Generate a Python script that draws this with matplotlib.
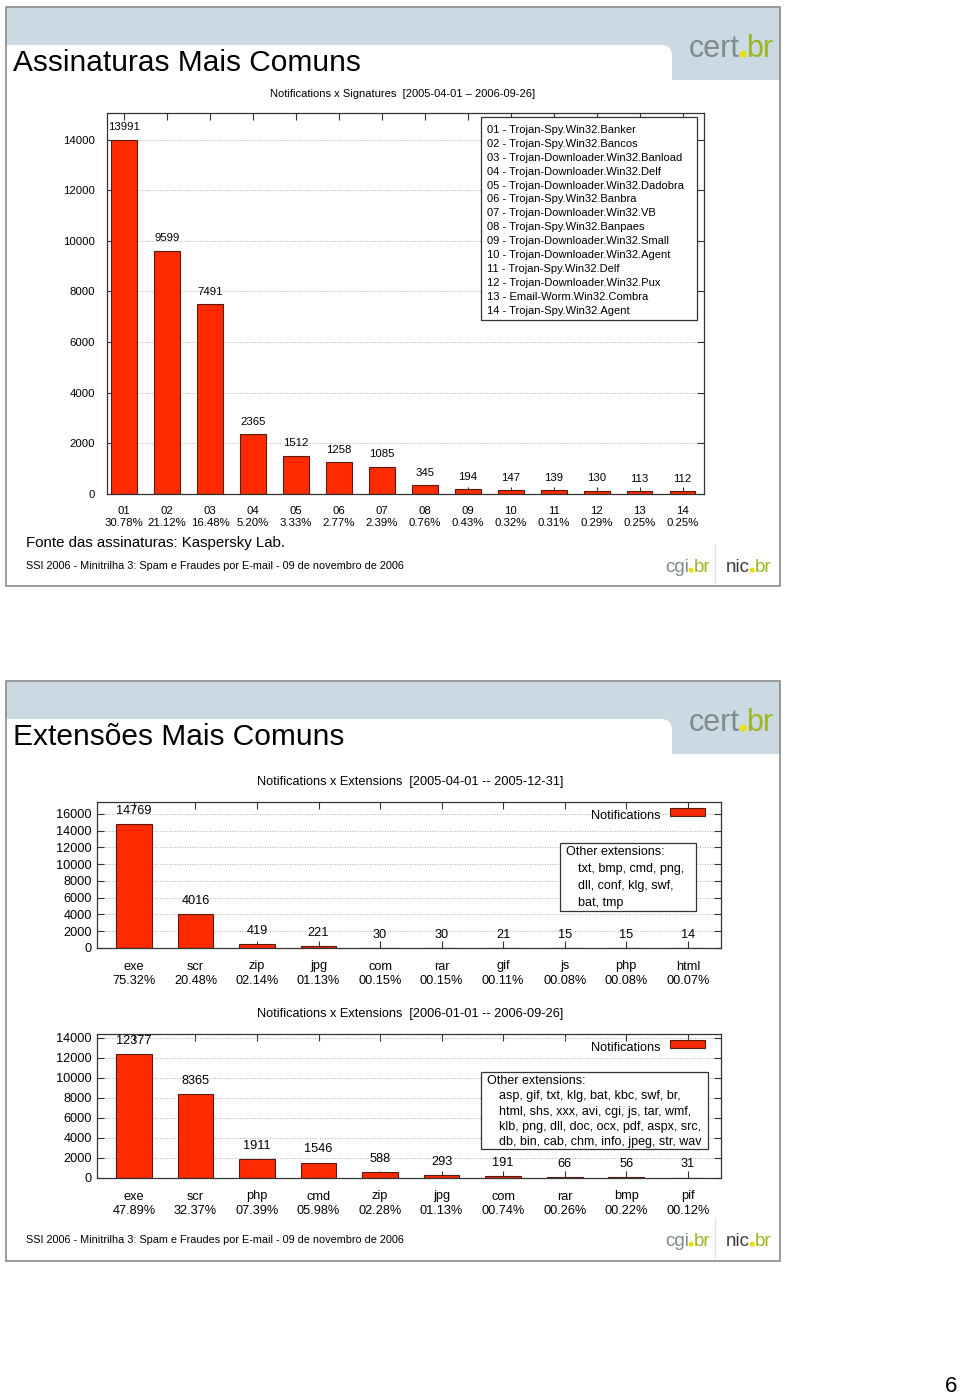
import matplotlib
matplotlib.use("Agg")
import matplotlib.pyplot as plt
from matplotlib.patches import Rectangle, FancyBboxPatch, Circle

plt.rcParams['font.family'] = ['Liberation Sans', 'DejaVu Sans']

# data
sig_codes = ['01', '02', '03', '04', '05', '06', '07', '08', '09', '10', '11', '12', '13', '14']
sig_counts = [13991, 9599, 7491, 2365, 1512, 1258, 1085, 345, 194, 147, 139, 130, 113, 112]
sig_pcts = ['30.78%', '21.12%', '16.48%', '5.20%', '3.33%', '2.77%', '2.39%',
            '0.76%', '0.43%', '0.32%', '0.31%', '0.29%', '0.25%', '0.25%']
sig_names = ['Trojan-Spy.Win32.Banker', 'Trojan-Spy.Win32.Bancos', 'Trojan-Downloader.Win32.Banload',
             'Trojan-Downloader.Win32.Delf', 'Trojan-Downloader.Win32.Dadobra', 'Trojan-Spy.Win32.Banbra',
             'Trojan-Downloader.Win32.VB', 'Trojan-Spy.Win32.Banpaes', 'Trojan-Downloader.Win32.Small',
             'Trojan-Downloader.Win32.Agent', 'Trojan-Spy.Win32.Delf', 'Trojan-Downloader.Win32.Pux',
             'Email-Worm.Win32.Combra', 'Trojan-Spy.Win32.Agent']

ext05_names = ['exe', 'scr', 'zip', 'jpg', 'com', 'rar', 'gif', 'js', 'php', 'html']
ext05_counts = [14769, 4016, 419, 221, 30, 30, 21, 15, 15, 14]
ext05_pcts = ['75.32%', '20.48%', '02.14%', '01.13%', '00.15%', '00.15%', '00.11%', '00.08%', '00.08%', '00.07%']
ext05_other = ['txt, bmp, cmd, png,', 'dll, conf, klg, swf,', 'bat, tmp']

ext06_names = ['exe', 'scr', 'php', 'cmd', 'zip', 'jpg', 'com', 'rar', 'bmp', 'pif']
ext06_counts = [12377, 8365, 1911, 1546, 588, 293, 191, 66, 56, 31]
ext06_pcts = ['47.89%', '32.37%', '07.39%', '05.98%', '02.28%', '01.13%', '00.74%', '00.26%', '00.22%', '00.12%']
ext06_other = ['asp, gif, txt, klg, bat, kbc, swf, br,', 'html, shs, xxx, avi, cgi, js, tar, wmf,',
               'klb, png, dll, doc, ocx, pdf, aspx, src,', 'db, bin, cab, chm, info, jpeg, str, wav']

W, H = 960, 1398
RED = '#ff2a00'
EDGE = '#5a1a10'
BLUE = '#cbdae2'
GRAY_LOGO = '#80898d'
GREEN_LOGO = '#9cb521'
DOT = '#e8e000'

fig = plt.figure(figsize=(W / 100, H / 100), dpi=100)
renderer = fig.canvas.get_renderer()


def px(x0, y0, x1, y1):
    return [x0 / W, 1 - y1 / H, (x1 - x0) / W, (y1 - y0) / H]


# background overlay (pixel coords)
bg = fig.add_axes([0, 0, 1, 1], zorder=0)
bg.set_xlim(0, W)
bg.set_ylim(H, 0)
bg.axis('off')

# top overlay for boxes and texts
top = fig.add_axes([0, 0, 1, 1], zorder=10)
top.set_xlim(0, W)
top.set_ylim(H, 0)
top.axis('off')
top.patch.set_alpha(0)


def logo(x, y, word, size, color, dot_r):
    # word + yellow dot + green "br", placed one after another
    t = top.text(x, y, word, color=color, fontsize=size, va='baseline', ha='left')
    x_end = t.get_window_extent(renderer).x1
    gap = dot_r * 2 + 1
    top.add_patch(Circle((x_end + gap / 2, y - dot_r), dot_r, color=DOT))
    top.text(x_end + gap, y, 'br', color=GREEN_LOGO, fontsize=size, va='baseline', ha='left')


def slide(y0, y1, title, footer_y):
    # header band
    bg.add_patch(Rectangle((6, y0), 774, 73, color=BLUE, lw=0))
    bg.add_patch(FancyBboxPatch((6, y0 + 38), 666, 60, boxstyle='round,pad=0,rounding_size=11',
                                fc='white', ec='none'))
    bg.add_patch(Rectangle((6, y0 + 38), 30, 60, color='white', lw=0))
    bg.add_patch(Rectangle((6, y0 + 73), 774, 40, color='white', lw=0))
    # frame
    top.add_patch(Rectangle((6, y0), 774, y1 - y0, fill=False, ec='#8a8a8a', lw=1.2))
    top.text(13, y0 + 56, title, fontsize=21.5, va='center', ha='left', color='black')
    logo(689, y0 + 50, 'cert', 22, GRAY_LOGO, 2.8)
    # footer
    top.text(26, footer_y, 'SSI 2006 - Minitrilha 3: Spam e Fraudes por E-mail - 09 de novembro de 2006',
             fontsize=7.8, va='center', ha='left')
    logo(665, footer_y + 6, 'cgi', 13.5, GRAY_LOGO, 1.8)
    top.plot([715, 715], [footer_y - 22, footer_y + 18], color='#e2e2e2', lw=1)
    logo(726, footer_y + 6, 'nic', 13.5, '#3c3c3c', 1.8)


def style_axes(ax, yticks, ylim, labels, fs, pad, ypad):
    ax.set_ylim(0, ylim)
    ax.set_yticks(yticks)
    ax.set_yticklabels([str(v) for v in yticks], fontsize=fs)
    ax.set_xticklabels(labels, fontsize=fs, linespacing=1.25)
    ax.tick_params(direction='in', top=True, right=True, length=5, width=0.8, color='#333333')
    ax.tick_params(axis='x', pad=pad)
    ax.tick_params(axis='y', pad=ypad)
    for s in ax.spines.values():
        s.set_color('#333333')
        s.set_linewidth(0.9)
    ax.yaxis.grid(True, linestyle=(0, (1, 2)), color='#999999', lw=0.6)
    ax.set_axisbelow(True)


slide(7, 586, 'Assinaturas Mais Comuns', 566)
slide(681, 1261, 'Extensões Mais Comuns', 1240)

# chart 1
top.text(403, 94, 'Notifications x Signatures  [2005-04-01 \u2013 2006-09-26]', fontsize=8.05,
         ha='center', va='center')
ax1 = fig.add_axes(px(107, 113, 704, 494), zorder=5)
x1 = range(len(sig_counts))
ax1.bar(x1, sig_counts, width=0.6, color=RED, edgecolor=EDGE, lw=0.8)
ax1.set_xlim(-0.4, len(sig_counts) - 0.5)
ax1.set_xticks(list(x1))
style_axes(ax1, list(range(0, 14001, 2000)), 15050,
           [c + '\n' + p for c, p in zip(sig_codes, sig_pcts)], 8.2, 9, 8.5)
for i, v in enumerate(sig_counts):
    ax1.annotate(str(v), (i, v), xytext=(0, 9), textcoords='offset points', ha='center',
                 va='center', fontsize=8.2)
top.add_patch(Rectangle((481, 117), 216, 203, fc='white', ec='#333333', lw=0.9))
for i, (c, n) in enumerate(zip(sig_codes, sig_names)):
    top.text(487, 130 + 13.9 * i, c + ' - ' + n, fontsize=8.0, va='center', ha='left')
top.text(26, 543, 'Fonte das assinaturas: Kaspersky Lab.', fontsize=10.8, va='center', ha='left')


def ext_chart(rect, names, counts, pcts, yticks, ylim, other, box, line_h, sub, sub_y):
    top.text(410, sub_y, sub, fontsize=9.2, ha='center', va='center')
    ax = fig.add_axes(px(*rect), zorder=5)
    xs = range(len(counts))
    ax.bar(xs, counts, width=0.58, color=RED, edgecolor=EDGE, lw=0.8)
    ax.set_xlim(-0.6, len(counts) - 0.46)
    ax.set_xticks(list(xs))
    style_axes(ax, yticks, ylim, [n + '\n' + p for n, p in zip(names, pcts)], 9.2, 9, 3.8)
    for i, v in enumerate(counts):
        ax.annotate(str(v), (i, v), xytext=(0, 9.5), textcoords='offset points', ha='center',
                    va='center', fontsize=9.2)
    # legend key
    x0, y0, x1, y1 = rect
    top.text(660, y0 + 14, 'Notifications', fontsize=9.2, ha='right', va='center')
    top.add_patch(Rectangle((670, y0 + 6), 35, 8, fc=RED, ec=EDGE, lw=0.8))
    bx0, by0, bx1, by1 = box
    top.add_patch(Rectangle((bx0, by0), bx1 - bx0, by1 - by0, fc='white', ec='#333333', lw=0.9))
    top.text(bx0 + 6, by0 + 9, 'Other extensions:', fontsize=9.0, ha='left', va='center')
    for i, ln in enumerate(other):
        top.text(bx0 + 18, by0 + 9 + line_h * (i + 1), ln, fontsize=9.0, ha='left', va='center')


ext_chart((97, 802, 721, 948), ext05_names, ext05_counts, ext05_pcts,
          list(range(0, 16001, 2000)), 17430, ext05_other, (560, 843, 696, 911), 17,
          'Notifications x Extensions  [2005-04-01 -- 2005-12-31]', 782)
ext_chart((97, 1034, 721, 1178), ext06_names, ext06_counts, ext06_pcts,
          list(range(0, 14001, 2000)), 14400, ext06_other, (481, 1072, 708, 1149), 15.3,
          'Notifications x Extensions  [2006-01-01 -- 2006-09-26]', 1014)

top.text(951, 1386, '6', fontsize=16, ha='center', va='center')

fig.savefig('out.png', dpi=100)
